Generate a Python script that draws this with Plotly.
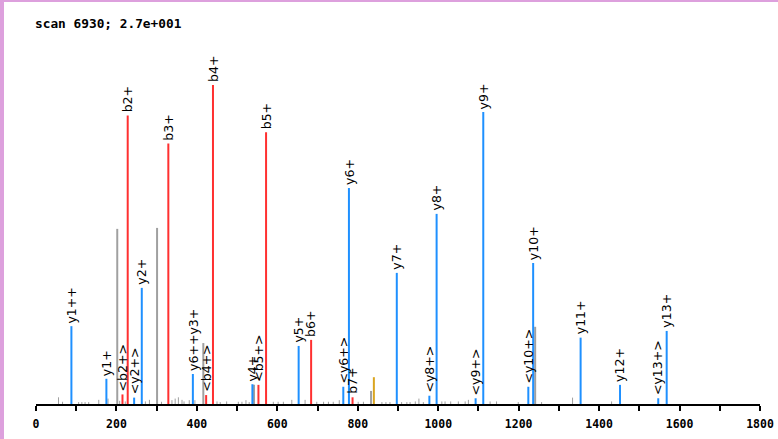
import plotly.graph_objects as go

# ---------------- data ----------------
title_text = "scan 6930; 2.7e+001"

y_mz = [88, 175, 244, 263, 390, 538, 653, 764, 778, 897, 978, 996, 1093, 1112, 1224, 1236, 1354, 1452, 1547, 1568]
y_int = [24.4, 7.9, 2.0, 36.4, 9.4, 6.2, 18.2, 5.4, 67.7, 41.1, 2.6, 59.6, 1.8, 91.5, 5.4, 44.2, 20.8, 6.0, 1.8, 22.9]
y_lab = ["y1++", "y1+", "&lt;y2+&gt;", "y2+", "y6++y3+", "y4+", "y5+", "&lt;y6+&gt;", "y6+", "y7+",
         "&lt;y8+&gt;", "y8+", "&lt;y9+&gt;", "y9+", "&lt;y10+&gt;", "y10+", "y11+", "y12+", "&lt;y13+&gt;", "y13+"]

b_mz = [215, 228, 329, 423, 440, 553, 572, 684, 787]
b_int = [3.0, 90.4, 81.7, 2.8, 100.0, 6.0, 85.2, 20.1, 2.1]
b_lab = ["&lt;b2+&gt;", "b2+", "b3+", "&lt;b4+&gt;", "b4+", "&lt;b5+&gt;", "b5+", "b6+", "b7+"]

gray_mz = [202, 301, 416, 542, 833, 1241]
gray_int = [54.9, 55.2, 19.1, 6.0, 4.1, 24.2]

noise_mz = [56, 66, 106, 114, 122, 131, 156, 179, 208, 222, 272, 282, 312, 338, 346, 354, 363, 368, 381, 395,
            450, 458, 474, 503, 512, 522, 530, 590, 602, 615, 636, 669, 698, 715, 727, 739, 754, 801, 814,
            860, 870, 880, 909, 922, 930, 943, 952, 963, 1009, 1017, 1031, 1050, 1067, 1075, 1129, 1145,
            1199, 1257, 1334, 1431]
noise_int = [2.1, 0.7, 0.6, 0.6, 0.6, 0.6, 1.3, 1.7, 1.0, 0.8, 0.8, 1.3, 0.7, 1.2, 1.7, 2.1, 1.3, 0.8, 1.2, 1.2,
             0.8, 0.6, 0.8, 0.7, 0.7, 1.2, 0.6, 0.7, 0.7, 0.7, 1.3, 1.3, 0.7, 0.7, 0.7, 0.7, 1.2, 0.7, 0.7,
             0.6, 0.6, 0.6, 0.6, 0.6, 0.6, 0.8, 1.7, 0.6, 0.8, 0.8, 0.8, 0.8, 0.8, 1.3, 0.8, 0.8,
             0.6, 0.6, 2.0, 0.8]

gold_mz = [840]
gold_int = [8.4]

x_ticks = [0, 200, 400, 600, 800, 1000, 1200, 1400, 1600, 1800]

# ---------------- helpers ----------------
def sticks(mz, inten):
    xs, ys = [], []
    for m, h in zip(mz, inten):
        xs += [m, m, None]
        ys += [0, h, None]
    return xs, ys

BLUE = "#1E90FF"
RED = "#FF3030"
GRAY = "#A0A0A0"
GOLD = "#DAA520"

fig = go.Figure()
for mz, it, col, w in [(noise_mz, noise_int, GRAY, 1), (gray_mz, gray_int, GRAY, 2),
                       (gold_mz, gold_int, GOLD, 2), (b_mz, b_int, RED, 2), (y_mz, y_int, BLUE, 2)]:
    xs, ys = sticks(mz, it)
    fig.add_trace(go.Scatter(x=xs, y=ys, mode="lines", line=dict(color=col, width=w),
                             hoverinfo="skip", showlegend=False))

L, R, T, B = 36, 18, 40, 35
pw, ph = 778 - L - R, 439 - T - B

annots = []
for mz, it, lab in list(zip(b_mz, b_int, b_lab)) + list(zip(y_mz, y_int, y_lab)):
    annots.append(dict(x=mz, y=it, xref="x", yref="y", text=lab, showarrow=False,
                       textangle=-90, xanchor="center", yanchor="bottom", yshift=2,
                       borderpad=0,
                       font=dict(family="DejaVu Sans", size=12.5, color="black")))

annots.append(dict(x=(33 - L) / pw, y=(439 - B - 23.5) / ph, xref="paper", yref="paper",
                   text=title_text, showarrow=False, xanchor="left", yanchor="middle",
                   font=dict(family="DejaVu Sans Mono", size=12.8, color="black", weight="bold")))

PLUM = "#DDA0DD"
shapes = [
    dict(type="rect", xref="paper", yref="paper", x0=(0 - L) / pw, x1=(4 - L) / pw,
         y0=(439 - B - 439) / ph, y1=(439 - B - 0) / ph, fillcolor=PLUM, line=dict(width=0), layer="above"),
    dict(type="rect", xref="paper", yref="paper", x0=(0 - L) / pw, x1=(778 - L) / pw,
         y0=(439 - B - 2) / ph, y1=(439 - B - 0) / ph, fillcolor=PLUM, line=dict(width=0), layer="above"),
]

fig.update_layout(
    width=778, height=439,
    margin=dict(l=L, r=R, t=T, b=B, pad=0, autoexpand=False),
    paper_bgcolor="white", plot_bgcolor="white",
    annotations=annots, shapes=shapes,
    xaxis=dict(range=[0, 1800], tickvals=x_ticks, ticktext=[str(t) for t in x_ticks],
               automargin=False, ticklabelstandoff=3,
               showline=True, linecolor="black", linewidth=2, ticks="outside", ticklen=5,
               tickwidth=2, tickcolor="black", showgrid=False, zeroline=False,
               tickfont=dict(family="DejaVu Sans Mono", size=11.5, color="black", weight="bold"),
               minor=dict(dtick=100, tick0=0, ticks="outside", ticklen=5, tickwidth=2, tickcolor="black",
                          showgrid=False)),
    yaxis=dict(range=[0, (439 - B - T) / 3.19], visible=False, showgrid=False, zeroline=False,
               automargin=False),
)

fig.write_html("out.html", config={"displayModeBar": False})

# remove default page margin so the figure sits at the window origin
with open("out.html", "r", encoding="utf-8") as f:
    html = f.read()
html = html.replace("<body>", '<body style="margin:0;padding:0;overflow:hidden">', 1)
with open("out.html", "w", encoding="utf-8") as f:
    f.write(html)
